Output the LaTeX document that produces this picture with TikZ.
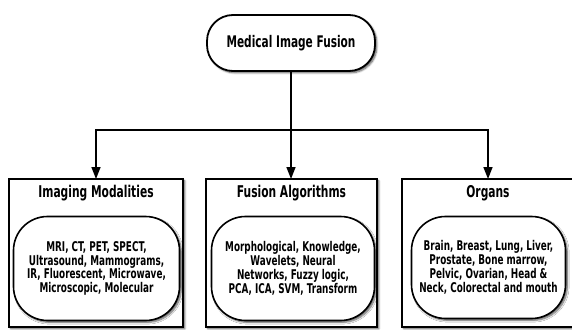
\documentclass[tikz,border=0pt]{standalone}
\usepackage{fontspec}
\newfontfamily\diagfont{DejaVu Sans}[FakeStretch=0.66]
\usetikzlibrary{arrows.meta,shadows.blur}

\tikzset{
  x=1pt, y=1pt,
  every node/.style={font=\diagfont\bfseries, inner sep=0pt, outer sep=0pt},
  softshadow/.style={blur shadow={shadow xshift=1.8pt, shadow yshift=-1.8pt,
      shadow blur steps=6, shadow blur radius=1.8pt, shadow opacity=65}},
  rootbox/.style={draw, line width=1.8pt, fill=white, rounded corners=26pt,
      minimum width=168pt, minimum height=56pt, softshadow,
      font=\diagfont\bfseries\fontsize{16}{18}\selectfont},
  groupbox/.style={draw, line width=1.9pt, fill=white, softshadow},
  heading/.style={font=\diagfont\bfseries\fontsize{16.2}{18}\selectfont},
  listbox/.style={draw, line width=1.6pt, fill=white, rounded corners=34pt,
      softshadow, align=center, font=\diagfont\bfseries\fontsize{13.4}{13.8}\selectfont},
  link/.style={line width=1.5pt, -{Triangle[length=12pt, width=9pt]}},
}

\begin{document}
\begin{tikzpicture}
\useasboundingbox (0,0) rectangle (572,-329);
\clip (0,0) rectangle (572,-329);

% root of the hierarchy
\node[rootbox] (root) at (291,-43) {Medical Image Fusion};

% three category panels
\node[groupbox, minimum width=174pt, minimum height=148pt, anchor=north west] (imaging) at (9,-179) {};
\node[groupbox, minimum width=171pt, minimum height=148pt, anchor=north west] (fusion) at (206,-179) {};
\node[groupbox, minimum width=172pt, minimum height=148pt, anchor=north west] (organs) at (402,-179) {};

% panel titles
\node[heading] (imagingtitle) at (96,-193) {Imaging Modalities};
\node[heading] (fusiontitle) at (291.5,-193) {Fusion Algorithms};
\node[heading] (organstitle) at (488,-193) {Organs};

% rounded lists inside the panels
\node[listbox, minimum width=166pt, minimum height=104pt] (imaginglist) at (96.5,-268.5)
  {MRI, CT, PET, SPECT,\\ Ultrasound, Mammograms,\\ IR, Fluorescent, Microwave,\\ Microscopic, Molecular};
\node[listbox, minimum width=163pt, minimum height=104pt] (fusionlist) at (293,-268.5)
  {Morphological, Knowledge,\\ Wavelets, Neural\\ Networks, Fuzzy logic,\\ PCA, ICA, SVM, Transform};
\node[listbox, minimum width=154pt, minimum height=102pt] (organslist) at (488.5,-267.5)
  {Brain, Breast, Lung, Liver,\\ Prostate, Bone marrow,\\ Pelvic, Ovarian, Head \&\\ Neck, Colorectal and mouth};

% connectors
\coordinate (split) at (291,-130);
\draw[link] (root.south) -- (root.south |- fusion.north);
\draw[link] (split) -| (imaging.north -| imagingtitle);
\draw[link] (split) -| (organs.north -| organstitle);
\end{tikzpicture}
\end{document}
